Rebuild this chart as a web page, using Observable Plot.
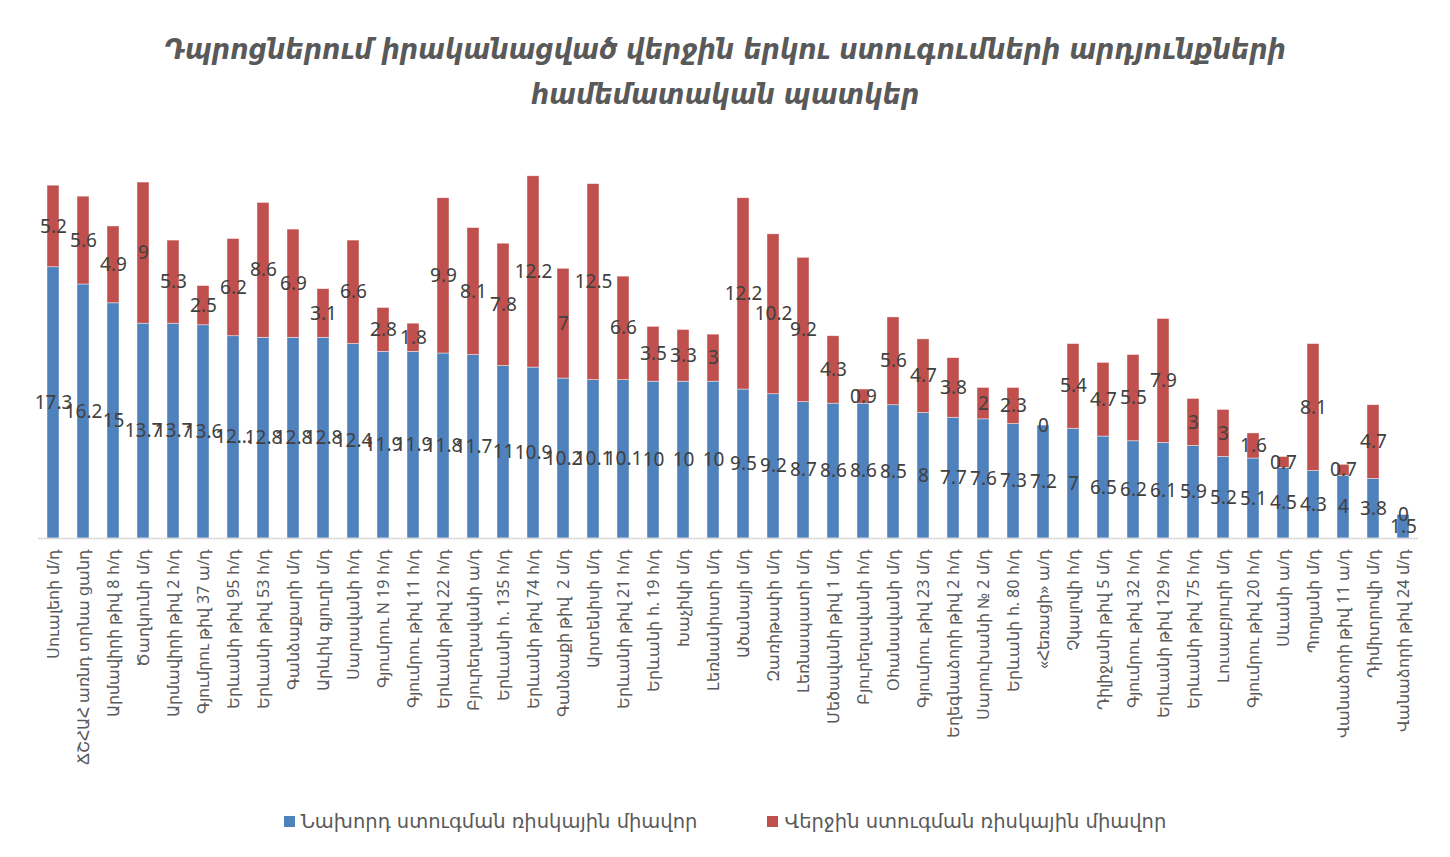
<!DOCTYPE html>
<html>
<head>
<meta charset="utf-8">
<script src="https://cdn.jsdelivr.net/npm/d3@7"></script>
<script src="https://cdn.jsdelivr.net/npm/@observablehq/plot@0.6"></script>
<style>
  html, body { margin: 0; padding: 0; background: #fff; }
  body { width: 1450px; height: 857px; overflow: hidden; font-family: "DejaVu Sans", "Noto Sans", sans-serif; }
  #title { text-align: center; padding-top: 27px; font-family: "DejaVu Sans Condensed", "DejaVu Sans", sans-serif; font-weight: bold; font-style: italic; font-size: 28.6px; line-height: 45px; color: #595959; }
  #chart { margin-top: 13px; height: 670px; }
  #legend { display: flex; justify-content: center; gap: 70px; margin-top: 10px; font-size: 19.5px; color: #595959; }
  #legend .item { display: flex; align-items: center; gap: 6px; }
  #legend .sw { width: 11px; height: 11px; display: inline-block; }
</style>
</head>
<body>
<div id="title">Դպրոցներում իրականացված վերջին երկու ստուգումների արդյունքների<br>համեմատական պատկեր</div>
<div id="chart"></div>
<div id="legend"></div>
<script>
const categories = [
  "Սուալեոի մ/դ", "ՃՇՀԱՀ առնդ տրնա ցանդ", "Արմավիրի թիվ 8 հ/դ", "Ծաղկունի մ/դ",
  "Արմավիրի թիվ 2 հ/դ", "Գյումրու թիվ 37 ա/դ", "Երևանի թիվ 95 հ/դ", "Երևանի թիվ 53 հ/դ",
  "Գանձաքարի մ/դ", "Արևիկ գյուղի մ/դ", "Սարավանի հ/դ", "Գյումրու N 19 հ/դ",
  "Գյումրու թիվ 11 հ/դ", "Երևանի թիվ 22 հ/դ", "Բյուրեղավանի ա/դ", "Երևանի հ. 135 հ/դ",
  "Երևանի թիվ 74 հ/դ", "Գանձաքի թիվ  2 մ/դ", "Արտենիսի մ/դ", "Երևանի թիվ 21 հ/դ",
  "Երևանի հ. 19 հ/դ", "Խաչիկի մ/դ", "Լեռնանիստի մ/դ", "Ածանայի մ/դ",
  "Զառիթափի մ/դ", "Լեռնապատի մ/դ", "Մեծավանի թիվ 1 մ/դ", "Բյուրեղավանի հ/դ",
  "Օհանավանի մ/դ", "Գյումրու թիվ 23 մ/դ", "Եղեգնաձորի թիվ 2 հ/դ", "Սարուխանի № 2 մ/դ",
  "Երևանի հ. 80 հ/դ", "«Հեռացի» ա/դ", "Չկալովի հ/դ", "Դիլիջանի թիվ 5 մ/դ",
  "Գյումրու թիվ 32 հ/դ", "Երևանի թիվ 129 հ/դ", "Երևանի թիվ 75 հ/դ", "Լուսաբյուրի մ/դ",
  "Գյումրու թիվ 20 հ/դ", "Սևանի ա/դ", "Պողյանի մ/դ", "Վանաձորի թիվ 11 ա/դ",
  "Դիմիտրովի մ/դ", "Վանաձորի թիվ 24 մ/դ"
];
const previous = [
  17.3, 16.2, 15, 13.7, 13.7, 13.6, 12.9, 12.8, 12.8, 12.8, 12.4, 11.9,
  11.9, 11.8, 11.7, 11, 10.9, 10.2, 10.1, 10.1, 10, 10, 10, 9.5,
  9.2, 8.7, 8.6, 8.6, 8.5, 8, 7.7, 7.6, 7.3, 7.2, 7, 6.5,
  6.2, 6.1, 5.9, 5.2, 5.1, 4.5, 4.3, 4, 3.8, 1.5
];
const previousLabels = [
  "17.3", "16.2", "15", "13.7", "13.7", "13.6", "12…", "12.8", "12.8", "12.8", "12.4", "11.9",
  "11.9", "11.8", "11.7", "11", "10.9", "10.2", "10.1", "10.1", "10", "10", "10", "9.5",
  "9.2", "8.7", "8.6", "8.6", "8.5", "8", "7.7", "7.6", "7.3", "7.2", "7", "6.5",
  "6.2", "6.1", "5.9", "5.2", "5.1", "4.5", "4.3", "4", "3.8", "1.5"
];
const latest = [
  5.2, 5.6, 4.9, 9, 5.3, 2.5, 6.2, 8.6, 6.9, 3.1, 6.6, 2.8,
  1.8, 9.9, 8.1, 7.8, 12.2, 7, 12.5, 6.6, 3.5, 3.3, 3, 12.2,
  10.2, 9.2, 4.3, 0.9, 5.6, 4.7, 3.8, 2, 2.3, 0, 5.4, 4.7,
  5.5, 7.9, 3, 3, 1.6, 0.7, 8.1, 0.7, 4.7, 0
];
const seriesNames = ["Նախորդ ստուգման ռիսկային միավոր", "Վերջին ստուգման ռիսկային միավոր"];
const seriesColors = ["#4F81BD", "#C0504D"];

const data = [];
categories.forEach((c, i) => {
  data.push({cat: c, series: seriesNames[0], value: previous[i], label: previousLabels[i]});
  data.push({cat: c, series: seriesNames[1], value: latest[i], label: String(latest[i])});
});

const chart = Plot.plot({
  width: 1450,
  height: 670,
  marginLeft: 38,
  marginRight: 32,
  marginTop: 16,
  marginBottom: 262,
  style: {background: "transparent"},
  x: {domain: categories, paddingInner: 0.61, paddingOuter: 0.305, label: null, tickRotate: -90, tickSize: 0, tickPadding: 10},
  y: {domain: [0, 25], axis: null},
  color: {domain: seriesNames, range: seriesColors},
  marks: [
    Plot.barY(data, {x: "cat", y: "value", fill: "series", z: "series", stroke: "#fff", strokeOpacity: 0.6, strokeWidth: 0.7}),
    Plot.ruleY([0], {stroke: "#d9d9d9", strokeWidth: 1.5}),
    Plot.text(data, Plot.stackY({x: "cat", y: "value", z: "series", text: "label", fill: "#404040", fontSize: 19}))
  ]
});
const xl = chart.querySelector("g[aria-label='x-axis tick label']");
if (xl) { xl.setAttribute("font-size", "16"); xl.setAttribute("fill", "#595959"); }
document.getElementById("chart").appendChild(chart);

const legend = document.getElementById("legend");
seriesNames.forEach((s, i) => {
  const item = document.createElement("div");
  item.className = "item";
  item.innerHTML = `<span class="sw" style="background:${seriesColors[i]}"></span><span>${s}</span>`;
  legend.appendChild(item);
});
</script>
</body>
</html>
